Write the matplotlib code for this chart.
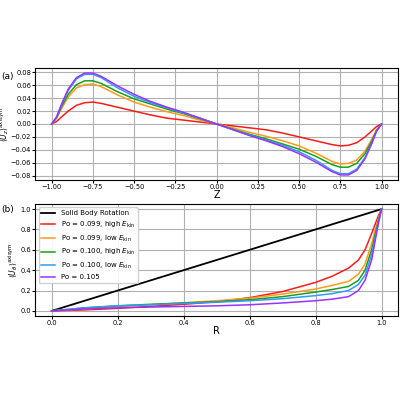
import numpy as np
import matplotlib.pyplot as plt

# (a) axial velocity, half profile for Z in [-1, 0]; the profile is antisymmetric
z_half = [-1.0, -0.97, -0.94, -0.9, -0.85, -0.8, -0.75, -0.7, -0.6, -0.5, -0.4, -0.3, -0.2, -0.1, 0.0]
uz_red = [0, 0.004, 0.011, 0.02, 0.029, 0.033, 0.034, 0.032, 0.026, 0.02, 0.014, 0.009, 0.006, 0.003, 0]
uz_orange = [0, 0.009, 0.024, 0.042, 0.056, 0.061, 0.062, 0.058, 0.045, 0.034, 0.026, 0.019, 0.013, 0.006, 0]
uz_green = [0, 0.01, 0.027, 0.046, 0.061, 0.067, 0.067, 0.063, 0.05, 0.039, 0.031, 0.023, 0.016, 0.008, 0]
uz_blue = [0, 0.011, 0.03, 0.052, 0.07, 0.077, 0.077, 0.072, 0.056, 0.043, 0.033, 0.025, 0.017, 0.009, 0]
uz_purple = [0, 0.011, 0.031, 0.054, 0.072, 0.079, 0.079, 0.074, 0.059, 0.046, 0.035, 0.026, 0.018, 0.009, 0]

# (b) azimuthal velocity vs R
r = [0, 0.1, 0.2, 0.3, 0.4, 0.5, 0.6, 0.7, 0.8, 0.85, 0.9, 0.93, 0.95, 0.97, 0.99, 1.0]
ut_red = [0, 0.01, 0.025, 0.045, 0.065, 0.09, 0.13, 0.19, 0.28, 0.34, 0.42, 0.5, 0.6, 0.76, 0.93, 1]
ut_orange = [0, 0.02, 0.04, 0.06, 0.08, 0.1, 0.125, 0.165, 0.215, 0.25, 0.29, 0.36, 0.46, 0.66, 0.9, 1]
ut_green = [0, 0.03, 0.05, 0.065, 0.078, 0.09, 0.11, 0.14, 0.185, 0.21, 0.24, 0.3, 0.4, 0.6, 0.88, 1]
ut_blue = [0, 0.03, 0.05, 0.06, 0.073, 0.085, 0.1, 0.12, 0.15, 0.17, 0.2, 0.26, 0.35, 0.55, 0.86, 1]
ut_purple = [0, 0.02, 0.03, 0.038, 0.044, 0.05, 0.06, 0.078, 0.1, 0.115, 0.14, 0.2, 0.3, 0.5, 0.85, 1]

labels = ["Po = 0.099, high $E_{\\rm kin}$", "Po = 0.099, low $E_{\\rm kin}$",
          "Po = 0.100, high $E_{\\rm kin}$", "Po = 0.100, low $E_{\\rm kin}$", "Po = 0.105"]
colors = ["#ff1a1a", "#ff9a1a", "#1aa01a", "#3399ff", "#9933ff"]

fig = plt.figure(figsize=(4, 4), dpi=100)
ax1 = fig.add_axes([0.088, 0.55, 0.907, 0.28])
ax2 = fig.add_axes([0.088, 0.21, 0.907, 0.28])

z_half = np.array(z_half)
z_full = np.concatenate([z_half, -z_half[::-1][1:]])
for uz, c in zip([uz_red, uz_orange, uz_green, uz_blue, uz_purple], colors):
    uz = np.array(uz)
    ax1.plot(z_full, np.concatenate([uz, -uz[::-1][1:]]), color=c, lw=1.1)
ax1.set_xticks(np.arange(-1, 1.01, 0.25))
ax1.set_yticks(np.arange(-0.08, 0.081, 0.02))
ax1.set_xlabel("Z", fontsize=7, labelpad=0)
ax1.set_ylabel(r"$\langle U_z\rangle^{\rm axisym}$", fontsize=5.5, labelpad=0)
ax1.grid(True, lw=0.8)
ax1.tick_params(labelsize=4.8, length=2, pad=1)
ax1.text(-0.075, 0.9, "(a)", transform=ax1.transAxes, fontsize=6.5, ha="center")

ax2.plot([0, 1], [0, 1], color="black", lw=1.3, label="Solid Body Rotation")
for ut, c, lab in zip([ut_red, ut_orange, ut_green, ut_blue, ut_purple], colors, labels):
    ax2.plot(r, ut, color=c, lw=1.1, label=lab)
ax2.set_xticks(np.arange(0, 1.01, 0.2))
ax2.set_yticks(np.arange(0, 1.01, 0.2))
ax2.set_xlabel("R", fontsize=7, labelpad=0)
ax2.set_ylabel(r"$\langle U_\theta\rangle^{\rm axisym}$", fontsize=5.5, labelpad=0)
ax2.grid(True, lw=0.8)
ax2.tick_params(labelsize=4.8, length=2, pad=1)
ax2.legend(loc="upper left", fontsize=5, framealpha=0.9)
ax2.text(-0.075, 0.93, "(b)", transform=ax2.transAxes, fontsize=6.5, ha="center")

fig.savefig("out.png", dpi=100)
